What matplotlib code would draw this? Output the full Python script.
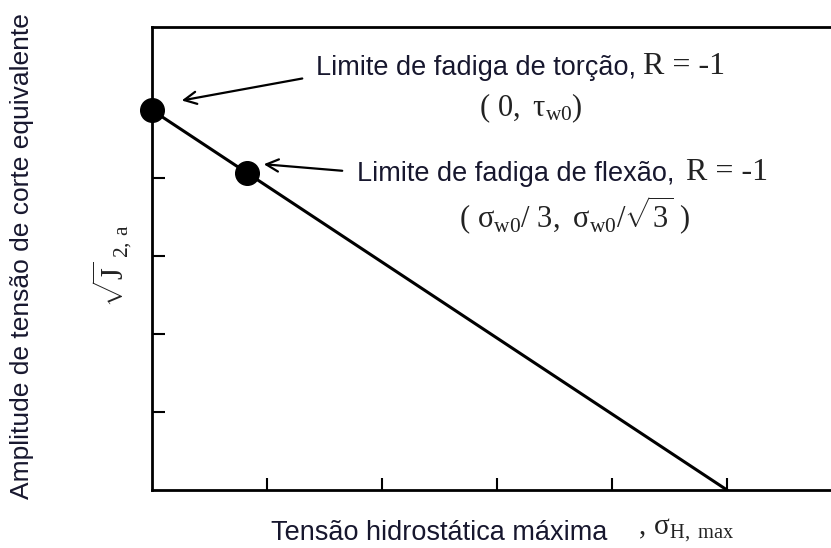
import matplotlib
matplotlib.use("Agg")
import matplotlib.pyplot as plt
import numpy as np

# fatigue limit line (Crossland-type criterion), in tick units
line_x = [0.0, 5.0]
line_y = [4.87, 0.0]

# the two fatigue limit points: torsion (R=-1) and bending (R=-1)
point_x = [0.0, 0.83]
point_y = [4.87, 4.06]

x_ticks = [1, 2, 3, 4, 5]
y_ticks = [1, 2, 3, 4]

W, H = 831, 548
txt_color = "#17172e"
math_color = "#222222"
plt.rcParams["mathtext.fontset"] = "custom"
plt.rcParams["mathtext.rm"] = "Liberation Serif"
plt.rcParams["mathtext.it"] = "Liberation Serif"
plt.rcParams["mathtext.default"] = "rm"

fig = plt.figure(figsize=(W / 100, H / 100), dpi=100)


def px(x, y):
    # pixel position (from top-left) -> figure fraction
    return x / W, 1 - y / H


left, top, bottom = 152, 27, 490
ax = fig.add_axes([left / W, 1 - bottom / H, (W - left + 2) / W, (bottom - top) / H])
ax.set_xlim(0, (W - left + 2) / 115.0)
ax.set_ylim(0, (bottom - top) / 78.0)
ax.spines["right"].set_visible(False)
for s in ["left", "bottom", "top"]:
    ax.spines[s].set_linewidth(2.0)
ax.set_xticks(x_ticks)
ax.set_yticks(y_ticks)
ax.tick_params(direction="in", length=9, width=1.5, labelbottom=False, labelleft=False)

ax.plot(line_x, line_y, color="black", lw=2.2, zorder=2)
ax.plot(point_x, point_y, "o", color="black", ms=17, zorder=3, clip_on=False)

# annotation arrows
ax.annotate("", xy=px(179, 101), xycoords="figure fraction",
            xytext=px(305, 78), textcoords="figure fraction",
            arrowprops=dict(arrowstyle="->", lw=1.6, color="black",
                            mutation_scale=22))
ax.annotate("", xy=px(261, 164), xycoords="figure fraction",
            xytext=px(345, 171), textcoords="figure fraction",
            arrowprops=dict(arrowstyle="->", lw=1.6, color="black",
                            mutation_scale=22))

sans = "Liberation Sans"
serif = "Liberation Serif"

# torsion label
fig.text(*px(316, 68), "Limite de fadiga de torção,", family=sans, fontsize=19.5,
         color=txt_color, ha="left", va="center")
fig.text(*px(643, 67), "R = -1", family=serif, fontsize=23, color=math_color,
         ha="left", va="center")
fig.text(*px(531, 108), r"$(\ 0,\ \tau_{w0})$", fontsize=22,
         color=math_color, ha="center", va="center")

# bending label
fig.text(*px(357, 174), "Limite de fadiga de flexão,", family=sans, fontsize=19.5,
         color=txt_color, ha="left", va="center")
fig.text(*px(686, 173), "R = -1", family=serif, fontsize=23, color=math_color,
         ha="left", va="center")
fig.text(*px(575, 216),
         r"$(\ \sigma_{w0}/\ 3,\ \sigma_{w0}/\sqrt{3}\ )$",
         fontsize=22, color=math_color, ha="center", va="center")

# axis titles
fig.text(*px(22, 256), "Amplitude de tensão de corte equivalente", family=sans,
         fontsize=19, color=txt_color, rotation=90, ha="center", va="center")
fig.text(*px(112, 266), r"$\sqrt{J}_{\ 2,\,a}$", fontsize=22, color=math_color,
         rotation=90, ha="center", va="center")
fig.text(*px(271, 533), "Tensão hidrostática máxima", family=sans, fontsize=19.5,
         color=txt_color, ha="left", va="center")
fig.text(*px(638, 530), r"$,\,\sigma_{H,\ max}$", fontsize=21,
         color=math_color, ha="left", va="center")

fig.savefig("out.png", dpi=100, facecolor="white")
